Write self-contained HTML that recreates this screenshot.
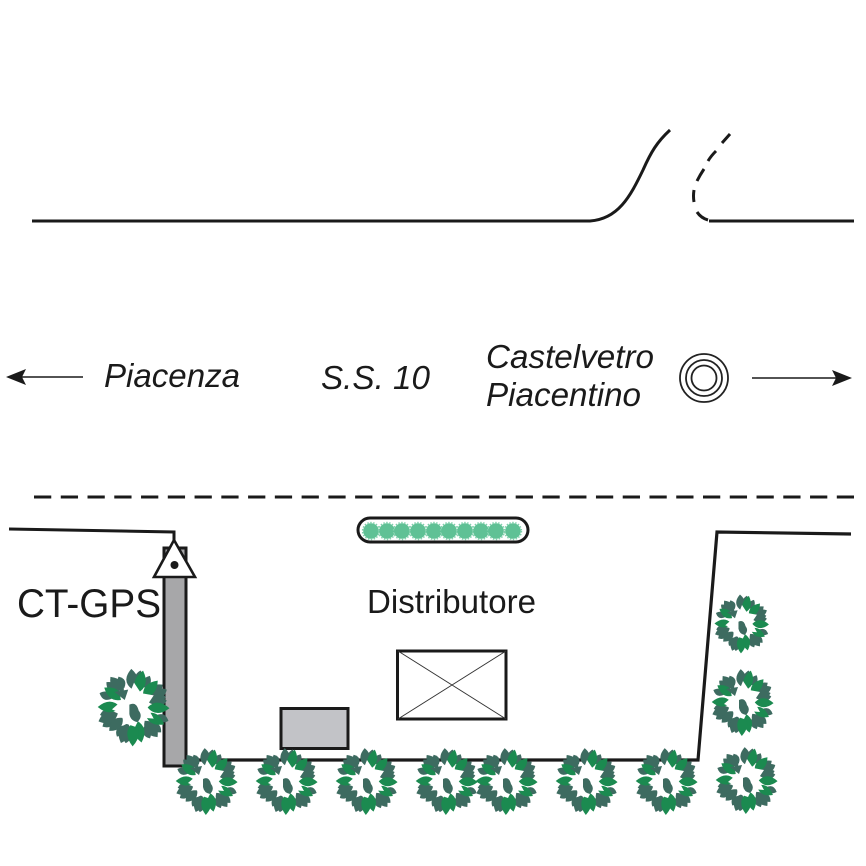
<!DOCTYPE html>
<html>
<head>
<meta charset="utf-8">
<style>
html,body{margin:0;padding:0;background:#fff;width:866px;height:866px;overflow:hidden}
svg{display:block}
text{font-family:"Liberation Sans",sans-serif;fill:#1a1a1a}
</style>
</head>
<body>
<svg width="866" height="866" viewBox="0 0 866 866" xmlns="http://www.w3.org/2000/svg">
<defs>
<path id="lg" d="M0,-13 Q10,-22 0,-34 Q-10,-22 0,-13Z" fill="#1b8a50"/>
<path id="ld" d="M0,-15 Q10,-23 0,-33 Q-10,-23 0,-15Z" fill="#3d6b60"/>
<path id="ls" d="M0,-20 Q7,-26 0,-32 Q-7,-26 0,-20Z" fill="#3d6b60"/>
<g id="bush">
<use href="#ls" transform="rotate(10)"/>
<use href="#ls" transform="rotate(27) scale(.94)"/>
<use href="#ls" transform="rotate(62)"/>
<use href="#ls" transform="rotate(79) scale(.9)"/>
<use href="#ls" transform="rotate(112)"/>
<use href="#ls" transform="rotate(133)"/>
<use href="#ls" transform="rotate(153) scale(.95)"/>
<use href="#ls" transform="rotate(193)"/>
<use href="#ls" transform="rotate(210) scale(.92)"/>
<use href="#ls" transform="rotate(238)"/>
<use href="#ls" transform="rotate(257) scale(.94)"/>
<use href="#ls" transform="rotate(292)"/>
<use href="#ls" transform="rotate(312)"/>
<use href="#ls" transform="rotate(333) scale(.92)"/>
<use href="#ld" transform="rotate(-4)"/>
<use href="#ld" transform="rotate(52) scale(.95)"/>
<use href="#ld" transform="rotate(72) scale(.88)"/>
<use href="#ld" transform="rotate(142)"/>
<use href="#ld" transform="rotate(200)"/>
<use href="#ld" transform="rotate(226) scale(.9)"/>
<use href="#ld" transform="rotate(248)"/>
<use href="#ld" transform="rotate(322)"/>
<use href="#lg" transform="rotate(14) scale(.95)"/>
<use href="#lg" transform="rotate(42) scale(.9)"/>
<use href="#lg" transform="rotate(92) scale(.9)"/>
<use href="#lg" transform="rotate(120) scale(.88)"/>
<use href="#lg" transform="rotate(168) scale(.92)"/>
<use href="#lg" transform="rotate(182)"/>
<use href="#lg" transform="rotate(270) scale(.92)"/>
<use href="#lg" transform="rotate(303) scale(.9)"/>
<path d="M0,-21 L6,-12 L17,-10 L11,-1 L17,10 L5,9 L1,17 L-8,14 L-12,5 L-19,2 L-11,-5 L-13,-14 L-4,-11Z" fill="#fff"/>
<path d="M-4,-2 Q2,-5 4,3 Q8,8 3,13 Q-3,12 -4,6Z" fill="#3d6b60"/>
<path d="M-17,-13 L-5,-15 L-8,-6 Z" fill="#3d6b60"/>
</g>
<g id="tuft">
<circle r="7.800" fill="#5fc195"/>
<circle r="8.500" fill="none" stroke="#7fd0ab" stroke-width="1.400" stroke-dasharray="1.500 1.500"/>
</g>
</defs>

<!-- road upper edge -->
<path d="M32,221 H590 C618,219 630,197 643,170 C651,152 657,142 670,130" fill="none" stroke="#1a1a1a" stroke-width="3"/>
<path d="M730,134 L722,143 M716,151 Q711,156 708,161 M704,169 Q700,175 697,181 M694,190 Q693,196 694,202 M697,212 Q701,218 708,220" fill="none" stroke="#1a1a1a" stroke-width="3"/>
<path d="M709,221 H854" fill="none" stroke="#1a1a1a" stroke-width="3"/>

<!-- arrows -->
<path d="M83,377 H20" stroke="#1a1a1a" stroke-width="1.600"/>
<path d="M6,377 L26,369 L22,377 L26,385Z" fill="#1a1a1a"/>
<path d="M752,378 H838" stroke="#1a1a1a" stroke-width="1.600"/>
<path d="M852,378 L832,370 L836,378 L832,386Z" fill="#1a1a1a"/>

<!-- labels -->
<text x="104" y="387" font-size="33" font-style="italic" textLength="136" lengthAdjust="spacingAndGlyphs">Piacenza</text>
<text x="321" y="389" font-size="33" font-style="italic" textLength="109" lengthAdjust="spacingAndGlyphs">S.S. 10</text>
<text x="486" y="368" font-size="33" font-style="italic" textLength="168" lengthAdjust="spacingAndGlyphs">Castelvetro</text>
<text x="486" y="406" font-size="33" font-style="italic" textLength="155" lengthAdjust="spacingAndGlyphs">Piacentino</text>

<!-- town symbol -->
<g fill="none" stroke="#222" stroke-width="1.800">
<circle cx="704" cy="378" r="24"/>
<circle cx="704" cy="378" r="18"/>
<circle cx="704" cy="378" r="12.500"/>
</g>

<!-- dashed lane -->
<path d="M34,497 H854" fill="none" stroke="#1a1a1a" stroke-width="3" stroke-dasharray="17.260 9.500"/>

<!-- site boundary -->
<path d="M9,529 L174,532 V548" fill="none" stroke="#1a1a1a" stroke-width="3"/>
<path d="M186,760 H698 L717,532 L851,534" fill="none" stroke="#1a1a1a" stroke-width="3.200"/>

<!-- mast -->
<rect x="164" y="548" width="22" height="218" fill="#a7a7a9" stroke="#1a1a1a" stroke-width="3"/>
<path d="M174,540 L195,577 H154Z" fill="#fff" stroke="#1a1a1a" stroke-width="2.600"/>
<circle cx="174.500" cy="565" r="4" fill="#1a1a1a"/>

<text x="17" y="617" font-size="40" textLength="144" lengthAdjust="spacingAndGlyphs">CT-GPS</text>
<text x="367" y="613" font-size="33" textLength="169" lengthAdjust="spacingAndGlyphs">Distributore</text>

<!-- hedge -->
<rect x="358" y="518" width="170" height="24" rx="12" ry="12" fill="#fff" stroke="#1a1a1a" stroke-width="3"/>
<use href="#tuft" x="371" y="531"/>
<use href="#tuft" x="387" y="531"/>
<use href="#tuft" x="402" y="531"/>
<use href="#tuft" x="418" y="531"/>
<use href="#tuft" x="434" y="531"/>
<use href="#tuft" x="449" y="531"/>
<use href="#tuft" x="465" y="531"/>
<use href="#tuft" x="481" y="531"/>
<use href="#tuft" x="496" y="531"/>
<use href="#tuft" x="513" y="531"/>

<!-- building -->
<rect x="397.500" y="651" width="108.500" height="68" fill="#fff" stroke="#1a1a1a" stroke-width="3"/>
<path d="M398,651 L506,719 M506,651 L398,719" stroke="#333" stroke-width="1"/>

<!-- gray box -->
<rect x="281" y="708.500" width="67" height="40" fill="#c2c3c7" stroke="#1a1a1a" stroke-width="3"/>

<!-- bushes -->
<use href="#bush" transform="translate(134,707) scale(1.160)"/>
<use href="#bush" transform="translate(207,781)"/>
<use href="#bush" transform="translate(287,781)"/>
<use href="#bush" transform="translate(367,781)"/>
<use href="#bush" transform="translate(447,781)"/>
<use href="#bush" transform="translate(507,781)"/>
<use href="#bush" transform="translate(587,781)"/>
<use href="#bush" transform="translate(667,781)"/>
<use href="#bush" transform="translate(747,780)"/>
<use href="#bush" transform="translate(742,623.500) scale(.880)"/>
<use href="#bush" transform="translate(743,702)"/>
</svg>
</body>
</html>
